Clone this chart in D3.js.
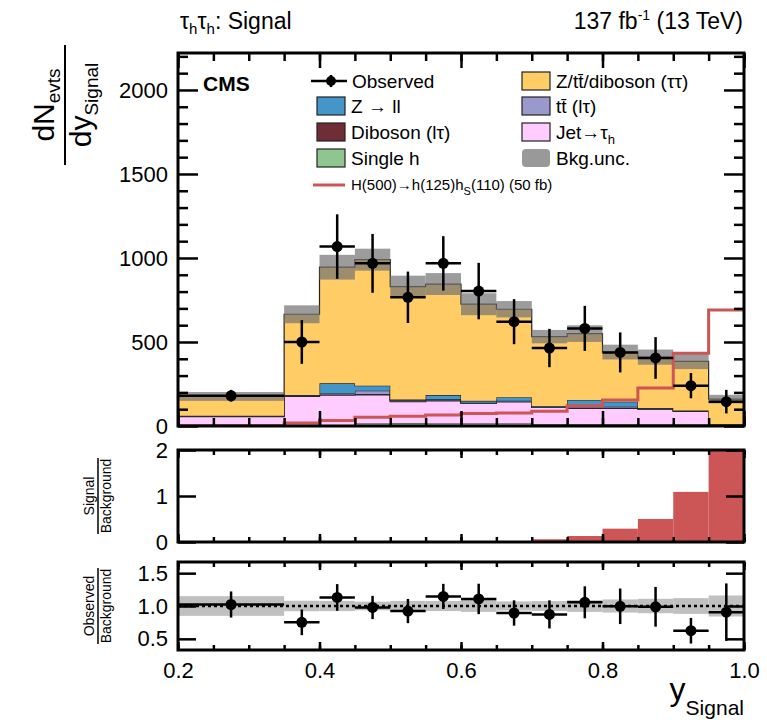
<!DOCTYPE html>
<html>
<head>
<meta charset="utf-8">
<script src="https://cdn.jsdelivr.net/npm/d3@7/dist/d3.min.js"></script>
<style>
  body { margin: 0; background: #fff; }
  svg { font-family: "Liberation Sans", Arial, Helvetica, sans-serif; }
</style>
</head>
<body>
<svg id="chart" width="767" height="727"></svg>
<script>
// bin edges in y_Signal
var edges = [0.2, 0.35, 0.4, 0.45, 0.5, 0.55, 0.6, 0.65, 0.7, 0.75, 0.8, 0.85, 0.9, 0.95, 1.0];

// background components (dN/dy), stacked bottom -> top
var singleH   = [3, 4, 6, 15, 18, 15, 15, 15, 12, 12, 12, 12, 12, 3];
var jetTau    = [52, 172, 178, 170, 127, 135, 120, 128, 98, 93, 93, 88, 76, 5];
var dibosonLT = [2, 2, 4, 5, 3, 4, 1, 3, 2, 3, 3, 2, 1, 1];
var ttbarLT   = [2, 4, 6, 20, 5, 5, 3, 5, 3, 7, 7, 3, 2, 1];
var zll       = [2, 2, 60, 30, 5, 25, 11, 20, 4, 40, 30, 2, 1, 1];
var zttLike   = [115, 481, 691, 750, 672, 661, 575, 524, 413, 395, 295, 303, 293, 149];
var bkgUncRel = [0.15, 0.08, 0.078, 0.066, 0.078, 0.077, 0.09, 0.07, 0.075, 0.09, 0.1, 0.11, 0.12, 0.16];

var observed    = [180, 500, 1068, 968, 766, 968, 803, 621, 464, 581, 438, 405, 240, 145];
var observedErr = [35, 130, 192, 175, 153, 162, 168, 134, 114, 134, 119, 124, 75, 70];

var signal     = [3, 18, 32, 52, 58, 66, 75, 78, 88, 120, 155, 226, 433, 690];
var sigOverBkg = [0, 0, 0, 0, 0, 0, 0.02, 0.02, 0.06, 0.13, 0.29, 0.5, 1.09, 4.3];

var mainTicks = [0, 500, 1000, 1500, 2000];
var sbTicks = [0, 1, 2];
var ratioTicks = [0.5, 1.0, 1.5];
var xTicks = [0.2, 0.4, 0.6, 0.8, 1.0];

var svg = d3.select('#chart');

var x = d3.scaleLinear().domain([0.2, 1.0]).range([178, 744]);
var yMain = d3.scaleLinear().domain([0, 2220]).range([426, 53]);
var ySB = d3.scaleLinear().domain([0, 2]).range([542, 450]);
var yRatio = d3.scaleLinear().domain([0.33, 1.67]).range([650, 562]);

var layers = [
  { name: 'singleH', vals: singleH, fill: '#8fc58f' },
  { name: 'jet', vals: jetTau, fill: '#ffccff' },
  { name: 'diboson', vals: dibosonLT, fill: '#6f2d35' },
  { name: 'ttbar', vals: ttbarLT, fill: '#9999cc' },
  { name: 'zll', vals: zll, fill: '#4496c8' },
  { name: 'ztt', vals: zttLike, fill: '#ffcc66' }
];

// stack with d3.stack
var rows = edges.slice(0, -1).map(function(e, i) {
  var r = {};
  layers.forEach(function(l) { r[l.name] = l.vals[i]; });
  return r;
});
var stacked = d3.stack().keys(layers.map(function(l) { return l.name; }))(rows);
var total = rows.map(function(r, i) { return stacked[stacked.length - 1][i][1]; });

function stepPts(vals) {
  var pts = [];
  vals.forEach(function(v, i) {
    pts.push([edges[i], v]);
    pts.push([edges[i + 1], v]);
  });
  return pts;
}

function lineFor(yScale) {
  return d3.line().x(function(d) { return x(d[0]); }).y(function(d) { return yScale(d[1]); });
}

var mainLine = lineFor(yMain);

// ---- main panel ----
var gMain = svg.append('g');

stacked.forEach(function(s, k) {
  var top = stepPts(s.map(function(d) { return d[1]; }));
  var bot = stepPts(s.map(function(d) { return d[0]; })).reverse();
  gMain.append('path')
    .attr('d', mainLine(top.concat(bot)) + 'Z')
    .attr('fill', layers[k].fill)
    .attr('stroke', 'none');
  var outline = [[edges[0], 0]].concat(top, [[edges[edges.length - 1], 0]]);
  gMain.append('path')
    .attr('d', mainLine(outline))
    .attr('fill', 'none')
    .attr('stroke', '#222')
    .attr('stroke-width', 1.2);
});

// background uncertainty band
gMain.selectAll('rect.unc')
  .data(total)
  .enter().append('rect')
  .attr('class', 'unc')
  .attr('x', function(d, i) { return x(edges[i]); })
  .attr('width', function(d, i) { return x(edges[i + 1]) - x(edges[i]); })
  .attr('y', function(d, i) { return yMain(d * (1 + bkgUncRel[i])); })
  .attr('height', function(d, i) { return yMain(d * (1 - bkgUncRel[i])) - yMain(d * (1 + bkgUncRel[i])); })
  .attr('fill', '#727272')
  .attr('opacity', 0.7);

// signal line
gMain.append('path')
  .attr('d', mainLine(stepPts(signal)))
  .attr('fill', 'none')
  .attr('stroke', '#cc5555')
  .attr('stroke-width', 3);

function drawPoints(g, yScale, vals, errs) {
  vals.forEach(function(v, i) {
    var cx = x((edges[i] + edges[i + 1]) / 2);
    g.append('line')
      .attr('x1', x(edges[i])).attr('x2', x(edges[i + 1]))
      .attr('y1', yScale(v)).attr('y2', yScale(v))
      .attr('stroke', '#000').attr('stroke-width', 2.5);
    g.append('line')
      .attr('x1', cx).attr('x2', cx)
      .attr('y1', yScale(v - errs[i])).attr('y2', yScale(v + errs[i]))
      .attr('stroke', '#000').attr('stroke-width', 2.5);
    g.append('circle')
      .attr('cx', cx).attr('cy', yScale(v))
      .attr('r', 5.5).attr('fill', '#000');
  });
}

drawPoints(gMain, yMain, observed, observedErr);

// ---- signal / background panel ----
svg.append('clipPath').attr('id', 'sbclip')
  .append('rect')
  .attr('x', x(0.2)).attr('y', ySB(2))
  .attr('width', x(1.0) - x(0.2)).attr('height', ySB(0) - ySB(2));

svg.append('g').attr('clip-path', 'url(#sbclip)')
  .selectAll('rect')
  .data(sigOverBkg)
  .enter().append('rect')
  .attr('x', function(d, i) { return x(edges[i]); })
  .attr('width', function(d, i) { return x(edges[i + 1]) - x(edges[i]); })
  .attr('y', function(d) { return ySB(d); })
  .attr('height', function(d) { return ySB(0) - ySB(d); })
  .attr('fill', '#cc5555');

// ---- observed / background panel ----
var gRatio = svg.append('g');
gRatio.selectAll('rect')
  .data(bkgUncRel)
  .enter().append('rect')
  .attr('x', function(d, i) { return x(edges[i]); })
  .attr('width', function(d, i) { return x(edges[i + 1]) - x(edges[i]); })
  .attr('y', function(d) { return yRatio(1 + d); })
  .attr('height', function(d) { return yRatio(1 - d) - yRatio(1 + d); })
  .attr('fill', '#c0c0c0');

gRatio.append('line')
  .attr('x1', x(0.2)).attr('x2', x(1.0))
  .attr('y1', yRatio(1)).attr('y2', yRatio(1))
  .attr('stroke', '#000').attr('stroke-width', 2.5)
  .attr('stroke-dasharray', '3,3');

var ratioVals = observed.map(function(v, i) { return v / total[i]; });
var ratioErrs = observedErr.map(function(v, i) { return v / total[i]; });
drawPoints(gRatio, yRatio, ratioVals, ratioErrs);

// ---- axes and frames ----
function minorRange(a, b, step) {
  return d3.range(Math.round((b - a) / step) + 1).map(function(k) { return +(a + k * step).toFixed(4); });
}

function frame(yScale, yMajor, yFmt, yMinor, yMajLen, xMajLen, xMinLen, showX) {
  var y0 = yScale.range()[0], y1 = yScale.range()[1];
  var g = svg.append('g');
  var xMinor = minorRange(0.2, 1.0, 0.05);

  // y ticks left and right
  g.append('g').attr('transform', 'translate(' + x(0.2) + ',0)')
    .call(d3.axisLeft(yScale).tickValues(yMajor).tickFormat(yFmt).tickSize(-yMajLen).tickPadding(10))
    .call(function(a) {
      a.select('.domain').remove();
      a.selectAll('line').attr('stroke-width', 2.5);
      a.selectAll('text').attr('font-size', 22).attr('fill', '#000');
    });
  g.append('g').attr('transform', 'translate(' + x(1.0) + ',0)')
    .call(d3.axisRight(yScale).tickValues(yMajor).tickSize(-yMajLen).tickFormat(''))
    .call(function(a) { a.select('.domain').remove(); a.selectAll('line').attr('stroke-width', 2.5); });
  if (yMinor) {
    g.append('g').attr('transform', 'translate(' + x(0.2) + ',0)')
      .call(d3.axisLeft(yScale).tickValues(yMinor).tickSize(-yMajLen / 2).tickFormat(''))
      .call(function(a) { a.select('.domain').remove(); a.selectAll('line').attr('stroke-width', 2.5); });
    g.append('g').attr('transform', 'translate(' + x(1.0) + ',0)')
      .call(d3.axisRight(yScale).tickValues(yMinor).tickSize(-yMajLen / 2).tickFormat(''))
      .call(function(a) { a.select('.domain').remove(); a.selectAll('line').attr('stroke-width', 2.5); });
  }

  // x ticks bottom and top
  [[y0, d3.axisBottom], [y1, d3.axisTop]].forEach(function(p, k) {
    g.append('g').attr('transform', 'translate(0,' + p[0] + ')')
      .call(p[1](x).tickValues(xMinor).tickSize(-xMinLen).tickFormat(''))
      .call(function(a) { a.select('.domain').remove(); a.selectAll('line').attr('stroke-width', 2.5); });
    g.append('g').attr('transform', 'translate(0,' + p[0] + ')')
      .call(p[1](x).tickValues(xTicks).tickSize(-xMajLen).tickPadding(12)
        .tickFormat(k === 0 && showX ? d3.format('.1f') : ''))
      .call(function(a) {
        a.select('.domain').remove();
        a.selectAll('line').attr('stroke-width', 2.5);
        a.selectAll('text').attr('font-size', 22).attr('fill', '#000');
      });
  });

  g.append('rect')
    .attr('x', x(0.2)).attr('y', y1)
    .attr('width', x(1.0) - x(0.2)).attr('height', y0 - y1)
    .attr('fill', 'none').attr('stroke', '#000').attr('stroke-width', 3);
}

frame(yMain, mainTicks, d3.format('d'),
  minorRange(0, 2200, 100).filter(function(v) { return v % 500 !== 0; }), 20, 15, 8, false);
frame(ySB, sbTicks, d3.format('d'), null, 18, 8, 5, false);
frame(yRatio, ratioTicks, d3.format('.1f'), null, 18, 8, 5, true);

// ---- texts ----
function richText(sel, parts) {
  parts.forEach(function(p) {
    var t = sel.append('tspan').text(p.t);
    if (p.size) t.attr('font-size', p.size);
    if (p.dy) t.attr('dy', p.dy);
    if (p.weight) t.attr('font-weight', p.weight);
  });
  return sel;
}

richText(svg.append('text').attr('x', 180).attr('y', 29).attr('font-size', 23), [
  { t: 'τ' }, { t: 'h', size: 15, dy: 5 }, { t: 'τ', dy: -5 }, { t: 'h', size: 15, dy: 5 }, { t: ': Signal', dy: -5 }
]);
richText(svg.append('text').attr('x', 743).attr('y', 29).attr('font-size', 23).attr('text-anchor', 'end'), [
  { t: '137 fb' }, { t: '-1', size: 14, dy: -9 }, { t: ' (13 TeV)', dy: 9 }
]);

svg.append('text').attr('x', 203).attr('y', 91)
  .attr('font-size', 21).attr('font-weight', 'bold').text('CMS');

// y title
var yt = svg.append('g').attr('transform', 'translate(0,105) rotate(-90)');
richText(yt.append('text').attr('x', 0).attr('y', 54).attr('text-anchor', 'middle').attr('font-size', 30), [
  { t: 'dN' }, { t: 'evts', size: 19, dy: 6 }
]);
yt.append('line').attr('x1', -60).attr('x2', 60).attr('y1', 65).attr('y2', 65)
  .attr('stroke', '#000').attr('stroke-width', 2);
richText(yt.append('text').attr('x', 0).attr('y', 91).attr('text-anchor', 'middle').attr('font-size', 30), [
  { t: 'dy' }, { t: 'Signal', size: 19, dy: 7 }
]);

function smallFrac(cy, num, den) {
  var g = svg.append('g').attr('transform', 'translate(0,' + cy + ') rotate(-90)');
  g.append('text').attr('x', 0).attr('y', 94).attr('text-anchor', 'middle').attr('font-size', 14).text(num);
  g.append('line').attr('x1', -38).attr('x2', 38).attr('y1', 98).attr('y2', 98)
    .attr('stroke', '#000').attr('stroke-width', 1.5);
  g.append('text').attr('x', 0).attr('y', 111).attr('text-anchor', 'middle').attr('font-size', 14).text(den);
}
smallFrac(496, 'Signal', 'Background');
smallFrac(606, 'Observed', 'Background');

// x title
richText(svg.append('text').attr('x', 744).attr('y', 700).attr('text-anchor', 'end').attr('font-size', 32), [
  { t: 'y' }, { t: 'Signal', size: 21, dy: 15 }
]);

// ---- legend ----
var leg = svg.append('g').attr('font-size', 19);
var legRows = [81, 106, 132, 158];
var col1 = 317, col2 = 522, sw = 28, sh = 18;

leg.append('line').attr('x1', col1 - 6).attr('x2', col1 + sw + 2).attr('y1', legRows[0]).attr('y2', legRows[0])
  .attr('stroke', '#000').attr('stroke-width', 2.5);
leg.append('line').attr('x1', col1 + sw / 2).attr('x2', col1 + sw / 2).attr('y1', legRows[0] - 6).attr('y2', legRows[0] + 6)
  .attr('stroke', '#000').attr('stroke-width', 2.5);
leg.append('circle').attr('cx', col1 + sw / 2).attr('cy', legRows[0]).attr('r', 5).attr('fill', '#000');
leg.append('text').attr('x', col1 + 35).attr('y', legRows[0] + 7).text('Observed');

var legItems = [
  { col: col2, row: 0, fill: '#ffcc66', parts: [{ t: 'Z/t' }, { t: 't\u0304' }, { t: '/diboson (ττ)' }] },
  { col: col1, row: 1, fill: '#4496c8', parts: [{ t: 'Z \u2192 ll' }] },
  { col: col2, row: 1, fill: '#9999cc', parts: [{ t: 'tt\u0304 (lτ)' }] },
  { col: col1, row: 2, fill: '#6f2d35', parts: [{ t: 'Diboson (lτ)' }] },
  { col: col2, row: 2, fill: '#ffccff', parts: [{ t: 'Jet\u2192τ' }, { t: 'h', size: 13, dy: 5 }] },
  { col: col1, row: 3, fill: '#8fc58f', parts: [{ t: 'Single h' }] },
  { col: col2, row: 3, fill: '#999999', parts: [{ t: 'Bkg.unc.' }], unc: true }
];
legItems.forEach(function(it) {
  var cy = legRows[it.row];
  leg.append('rect')
    .attr('x', it.col).attr('y', cy - sh / 2).attr('width', sw).attr('height', sh)
    .attr('fill', it.fill)
    .attr('stroke', it.unc ? 'none' : '#222').attr('stroke-width', 1.2)
    .attr('rx', it.unc ? 4 : 0);
  richText(leg.append('text').attr('x', it.col + 34).attr('y', cy + 7), it.parts);
});

leg.append('line').attr('x1', col1 - 4).attr('x2', col1 + sw).attr('y1', 185).attr('y2', 185)
  .attr('stroke', '#cc5555').attr('stroke-width', 3);
richText(leg.append('text').attr('x', col1 + 34).attr('y', 190).attr('font-size', 15), [
  { t: 'H(500)\u2192h(125)h' }, { t: 'S', size: 11, dy: 5 }, { t: '(110) (50 fb)', dy: -5 }
]);
</script>
</body>
</html>
